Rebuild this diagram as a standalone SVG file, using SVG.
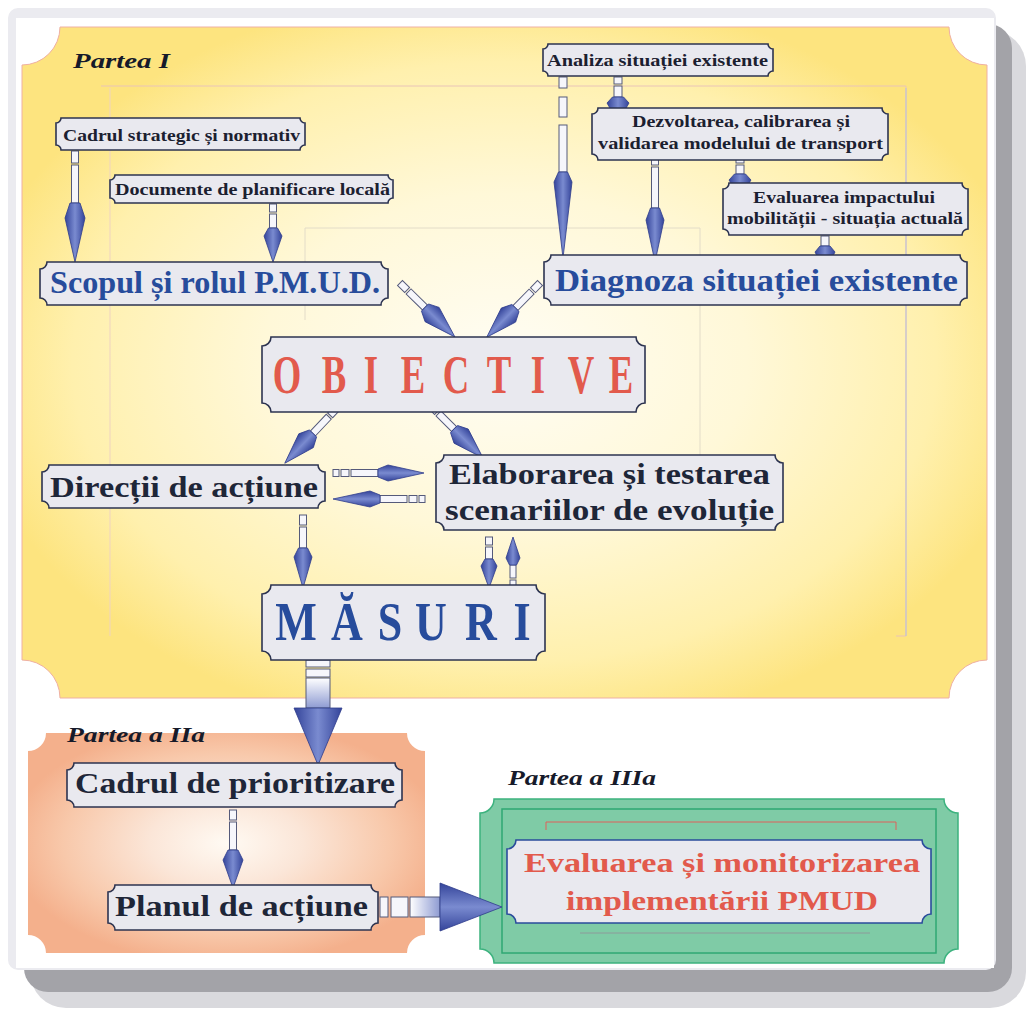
<svg xmlns="http://www.w3.org/2000/svg" width="1034" height="1016" viewBox="0 0 1034 1016">
<defs>
<style>
.box{fill:#e9e9ef;stroke:#2c3350;stroke-width:1.6}
.t{font-family:"Liberation Serif","DejaVu Serif",serif;font-weight:bold}
.sm{font-size:16px;fill:#1b2030}
.dk{fill:#1e2638}
.blue{fill:#274c9c}
.red{fill:#e25a4c}
.part{font-style:italic;font-size:20px;fill:#161a2a}
.tl{fill:#f6f6fb;stroke:#555a7a;stroke-width:1}
.hd{fill:url(#hg);stroke:#2e3c8c;stroke-width:0.8}
.sh{fill:url(#sg);stroke:#555a7a;stroke-width:1}
.deco{fill:none;stroke-width:1}
</style>
<linearGradient id="hg" x1="0" y1="0" x2="1" y2="0">
<stop offset="0" stop-color="#34449a"/><stop offset="0.5" stop-color="#7a8bd0"/><stop offset="1" stop-color="#34449a"/>
</linearGradient>
<linearGradient id="sg" x1="0" y1="0" x2="0" y2="1">
<stop offset="0" stop-color="#ffffff"/><stop offset="1" stop-color="#8e9bd2"/>
</linearGradient>
<radialGradient id="yg" cx="0.5" cy="0.5" r="0.56">
<stop offset="0" stop-color="#fffdf4"/><stop offset="0.45" stop-color="#fff8d8"/><stop offset="0.8" stop-color="#fff0ad"/><stop offset="1" stop-color="#fde47f"/>
</radialGradient>
<radialGradient id="og" cx="0.5" cy="0.5" r="0.55">
<stop offset="0" stop-color="#fffaf3"/><stop offset="0.35" stop-color="#fbe6d8"/><stop offset="0.75" stop-color="#f8c8aa"/><stop offset="1" stop-color="#f4b08c"/>
</radialGradient>
</defs>

<!-- card and shadow -->
<rect x="30" y="30" width="996" height="978" rx="36" fill="#d9d9dd"/>
<rect x="24" y="24" width="988" height="968" rx="24" fill="#a3a3a8"/>
<rect x="8" y="8" width="988" height="962" rx="10" fill="#ebebf0"/>
<rect x="16" y="18" width="978" height="950" fill="#ffffff"/>

<!-- panels -->
<g id="panel-partea1">
<path d="M60,27 H949 A38 38 0 0 0 987,65 V660 A38 38 0 0 0 949,698 H60 A38 38 0 0 0 22,660 V65 A38 38 0 0 0 60,27 Z" fill="url(#yg)" stroke="#efb0a4" stroke-width="1"/>
<path class="deco" d="M101,86 H906 V636 H896" stroke="#e9c4b8"/>
<path class="deco" d="M110,88 V636" stroke="#efd3c0"/>
<path class="deco" d="M906,88 V636" stroke="#b9c0dc"/>
<path class="deco" d="M305,228 H700 V455 M305,228 V320" stroke="#e3dcc8"/>
<text class="t part" x="73" y="68" textLength="97" lengthAdjust="spacingAndGlyphs">Partea I</text>
</g>
<g id="panel-partea2">
<path d="M46,733 H407 A18 18 0 0 0 425,751 V935 A18 18 0 0 0 407,953 H46 A18 18 0 0 0 28,935 V751 A18 18 0 0 0 46,733 Z" fill="url(#og)"/>
<text class="t part" x="67" y="742" textLength="138" lengthAdjust="spacingAndGlyphs">Partea a IIa</text>
</g>
<g id="panel-partea3">
<path d="M494,799 H944 A14 14 0 0 0 958,813 V949 A14 14 0 0 0 944,963 H494 A14 14 0 0 0 480,949 V813 A14 14 0 0 0 494,799 Z" fill="#7fcba6" stroke="#3cb27e" stroke-width="1.5"/>
<rect x="502" y="809" width="434" height="144" fill="none" stroke="#2fa873" stroke-width="1.5"/>
<path class="deco" d="M546,830 V822 H896 V830" stroke="#e0605a" stroke-width="1.5"/>
<path class="deco" d="M580,933 H870" stroke="#8e9a9a" stroke-width="2"/>
<text class="t part" x="508" y="785" textLength="148" lengthAdjust="spacingAndGlyphs">Partea a IIIa</text>
</g>

<!-- connectors -->
<g id="connectors">
<g transform="translate(75,151)"><rect class="tl" x="-3.5" y="0" width="7" height="12"/><rect class="tl" x="-3.5" y="14" width="7" height="38"/><polygon class="hd" points="-5,52 -10,67 0,111 10,67 5,52"/></g>
<g transform="translate(273,204)"><rect class="tl" x="-3.5" y="0" width="7" height="8"/><rect class="tl" x="-3.5" y="10" width="7" height="14"/><polygon class="hd" points="-4.5,24 -9,32 0,58 9,32 4.5,24"/></g>
<g transform="translate(563,77)"><rect class="tl" x="-4" y="0" width="8" height="11"/><rect class="tl" x="-4" y="20" width="8" height="20"/><rect class="tl" x="-4" y="48" width="8" height="47"/><polygon class="hd" points="-4.5,95 -9,105 0,181 9,105 4.5,95"/></g>
<g transform="translate(618,77)"><rect class="tl" x="-4" y="0" width="8" height="7"/><rect class="tl" x="-4" y="9" width="8" height="11"/><polygon class="hd" points="-5.5,20 -11,26 0,45 11,26 5.5,20"/></g>
<g transform="translate(655,153)"><rect class="tl" x="-3.5" y="0" width="7" height="12"/><rect class="tl" x="-3.5" y="14" width="7" height="41"/><polygon class="hd" points="-4.5,55 -9,67 0,109 9,67 4.5,55"/></g>
<g transform="translate(740,156)"><rect class="tl" x="-4" y="0" width="8" height="7"/><rect class="tl" x="-4" y="9" width="8" height="9"/><polygon class="hd" points="-5.5,18 -11,24 0,42 11,24 5.5,18"/></g>
<g transform="translate(825,226)"><rect class="tl" x="-4" y="0" width="8" height="8"/><rect class="tl" x="-4" y="10" width="8" height="10"/><polygon class="hd" points="-5,20 -10,26 0,46 10,26 5,20"/></g>
<g transform="translate(400,283) rotate(-45.5)"><rect class="tl" x="-3.5" y="0" width="7" height="10"/><rect class="tl" x="-3.5" y="12" width="7" height="23"/><polygon class="hd" points="-5,35 -10,45 0,77 10,45 5,35"/></g>
<g transform="translate(540,283) rotate(44.5)"><rect class="tl" x="-3.5" y="0" width="7" height="10"/><rect class="tl" x="-3.5" y="12" width="7" height="23"/><polygon class="hd" points="-5,35 -10,45 0,76 10,45 5,35"/></g>
<g transform="translate(337,408) rotate(43.4)"><rect class="tl" x="-3.5" y="0" width="7" height="10"/><rect class="tl" x="-3.5" y="12" width="7" height="23"/><polygon class="hd" points="-5,35 -10,45 0,76 10,45 5,35"/></g>
<g transform="translate(430,405) rotate(-45)"><rect class="tl" x="-3.5" y="0" width="7" height="10"/><rect class="tl" x="-3.5" y="12" width="7" height="22"/><polygon class="hd" points="-5,34 -10,44 0,75 10,44 5,34"/></g>
<g transform="translate(333,473) rotate(-90)"><rect class="tl" x="-3.5" y="0" width="7" height="6"/><rect class="tl" x="-3.5" y="8" width="7" height="8"/><rect class="tl" x="-3.5" y="18" width="7" height="27"/><polygon class="hd" points="-4,45 -8,55 0,91 8,55 4,45"/></g>
<g transform="translate(425,499) rotate(90)"><rect class="tl" x="-3.5" y="0" width="7" height="6"/><rect class="tl" x="-3.5" y="8" width="7" height="8"/><rect class="tl" x="-3.5" y="18" width="7" height="27"/><polygon class="hd" points="-4,45 -8,55 0,92 8,55 4,45"/></g>
<g transform="translate(303,515)"><rect class="tl" x="-3.5" y="0" width="7" height="10"/><rect class="tl" x="-3.5" y="12" width="7" height="21"/><polygon class="hd" points="-4.5,33 -9,42 0,73 9,42 4.5,33"/></g>
<g transform="translate(489,537)"><rect class="tl" x="-3.5" y="0" width="7" height="8"/><rect class="tl" x="-3.5" y="10" width="7" height="12"/><polygon class="hd" points="-4,22 -8,29 0,51 8,29 4,22"/></g>
<g transform="translate(513,590) rotate(180)"><rect class="tl" x="-3" y="0" width="6" height="10"/><rect class="tl" x="-3" y="12" width="6" height="13"/><polygon class="hd" points="-3.5,25 -7,32 0,53 7,32 3.5,25"/></g>
<g transform="translate(318,660)"><rect class="tl" x="-12" y="0" width="24" height="7"/><rect class="tl" x="-12" y="9" width="24" height="8"/><rect class="sh" x="-12" y="18" width="24" height="30"/><polygon class="hd" points="-12,48 -24,48 0,105 24,48 12,48"/></g>
<g transform="translate(233,810)"><rect class="tl" x="-3.5" y="0" width="7" height="10"/><rect class="tl" x="-3.5" y="12" width="7" height="28"/><polygon class="hd" points="-5,40 -10,50 0,78 10,50 5,40"/></g>
<g transform="translate(380,907) rotate(-90)"><rect class="tl" x="-10" y="0" width="20" height="8"/><rect class="tl" x="-10" y="11" width="20" height="17"/><rect class="sh" x="-10" y="30" width="20" height="30"/><polygon class="hd" points="-10,60 -24,60 0,122 24,60 10,60"/></g>
</g>

<!-- nodes -->
<g id="n-cadrul-strategic">
<path class="box" d="M61,118 H300 A5 5 0 0 0 305,123 V145 A5 5 0 0 0 300,150 H61 A5 5 0 0 0 56,145 V123 A5 5 0 0 0 61,118 Z"/>
<text class="t sm" x="63" y="141" textLength="237" lengthAdjust="spacingAndGlyphs">Cadrul strategic și normativ</text>
</g>
<g id="n-documente">
<path class="box" d="M115,175 H388 A5 5 0 0 0 393,180 V198 A5 5 0 0 0 388,203 H115 A5 5 0 0 0 110,198 V180 A5 5 0 0 0 115,175 Z"/>
<text class="t sm" x="115" y="195" textLength="275" lengthAdjust="spacingAndGlyphs">Documente de planificare locală</text>
</g>
<g id="n-scopul">
<path class="box" d="M47,262 H381 A7 7 0 0 0 388,269 V298 A7 7 0 0 0 381,305 H47 A7 7 0 0 0 40,298 V269 A7 7 0 0 0 47,262 Z"/>
<text class="t blue" x="50" y="293" font-size="31" textLength="330" lengthAdjust="spacingAndGlyphs">Scopul și rolul P.M.U.D.</text>
</g>
<g id="n-analiza">
<path class="box" d="M548,44 H768 A5 5 0 0 0 773,49 V71 A5 5 0 0 0 768,76 H548 A5 5 0 0 0 543,71 V49 A5 5 0 0 0 548,44 Z"/>
<text class="t sm" x="547" y="66" font-size="15" textLength="221" lengthAdjust="spacingAndGlyphs">Analiza situației existente</text>
</g>
<g id="n-dezvoltarea">
<path class="box" d="M598,108 H882 A6 6 0 0 0 888,114 V154 A6 6 0 0 0 882,160 H598 A6 6 0 0 0 592,154 V114 A6 6 0 0 0 598,108 Z"/>
<text class="t sm" x="632" y="127" textLength="218" lengthAdjust="spacingAndGlyphs">Dezvoltarea, calibrarea și</text>
<text class="t sm" x="598" y="149" textLength="285" lengthAdjust="spacingAndGlyphs">validarea modelului de transport</text>
</g>
<g id="n-evaluarea-impact">
<path class="box" d="M729,183 H962 A6 6 0 0 0 968,189 V229 A6 6 0 0 0 962,235 H729 A6 6 0 0 0 723,229 V189 A6 6 0 0 0 729,183 Z"/>
<text class="t sm" x="753" y="203" textLength="182" lengthAdjust="spacingAndGlyphs">Evaluarea impactului</text>
<text class="t sm" x="727" y="224" textLength="236" lengthAdjust="spacingAndGlyphs">mobilității - situația actuală</text>
</g>
<g id="n-diagnoza">
<path class="box" d="M551,255 H960 A7 7 0 0 0 967,262 V298 A7 7 0 0 0 960,305 H551 A7 7 0 0 0 544,298 V262 A7 7 0 0 0 551,255 Z"/>
<text class="t blue" x="555" y="291" font-size="31" textLength="403" lengthAdjust="spacingAndGlyphs">Diagnoza situației existente</text>
</g>
<g id="n-obiective">
<path class="box" d="M271,337 H636 A9 9 0 0 0 645,346 V403 A9 9 0 0 0 636,412 H271 A9 9 0 0 0 262,403 V346 A9 9 0 0 0 271,337 Z"/>
<text class="t red" transform="translate(0,393) scale(0.68,1)" font-size="54" text-anchor="middle" x="422.06 491.18 545.59 607.35 670.59 733.82 791.18 854.41 913.24" y="0">OBIECTIVE</text>
</g>
<g id="n-directii">
<path class="box" d="M49,465 H318 A7 7 0 0 0 325,472 V501 A7 7 0 0 0 318,508 H49 A7 7 0 0 0 42,501 V472 A7 7 0 0 0 49,465 Z"/>
<text class="t dk" x="50" y="497" font-size="29" textLength="268" lengthAdjust="spacingAndGlyphs">Direcții de acțiune</text>
</g>
<g id="n-elaborarea">
<path class="box" d="M444,455 H775 A8 8 0 0 0 783,463 V522 A8 8 0 0 0 775,530 H444 A8 8 0 0 0 436,522 V463 A8 8 0 0 0 444,455 Z"/>
<text class="t dk" x="449" y="484" font-size="29" textLength="321" lengthAdjust="spacingAndGlyphs">Elaborarea și testarea</text>
<text class="t dk" x="445" y="520" font-size="29" textLength="329" lengthAdjust="spacingAndGlyphs">scenariilor de evoluție</text>
</g>
<g id="n-masuri">
<path class="box" d="M271,585 H536 A9 9 0 0 0 545,594 V651 A9 9 0 0 0 536,660 H271 A9 9 0 0 0 262,651 V594 A9 9 0 0 0 271,585 Z"/>
<text class="t blue" transform="translate(0,640) scale(0.8,1)" font-size="55" text-anchor="middle" x="370 433.75 487.5 538.75 601.25 652.5" y="0">MĂSURI</text>
</g>
<g id="n-cadrul-prioritizare">
<path class="box" d="M74,763 H395 A7 7 0 0 0 402,770 V800 A7 7 0 0 0 395,807 H74 A7 7 0 0 0 67,800 V770 A7 7 0 0 0 74,763 Z"/>
<text class="t dk" x="75" y="793" font-size="30" textLength="320" lengthAdjust="spacingAndGlyphs">Cadrul de prioritizare</text>
</g>
<g id="n-planul">
<path class="box" d="M115,885 H371 A7 7 0 0 0 378,892 V923 A7 7 0 0 0 371,930 H115 A7 7 0 0 0 108,923 V892 A7 7 0 0 0 115,885 Z"/>
<text class="t dk" x="115" y="916" font-size="30" textLength="253" lengthAdjust="spacingAndGlyphs">Planul de acțiune</text>
</g>
<g id="n-evaluarea-monitorizare">
<path class="box" d="M516,840 H922 A9 9 0 0 0 931,849 V914 A9 9 0 0 0 922,923 H516 A9 9 0 0 0 507,914 V849 A9 9 0 0 0 516,840 Z" style="stroke:#2a4c9c"/>
<text class="t red" x="524" y="872" font-size="28" textLength="396" lengthAdjust="spacingAndGlyphs">Evaluarea și monitorizarea</text>
<text class="t red" x="566" y="910" font-size="28" textLength="312" lengthAdjust="spacingAndGlyphs">implementării PMUD</text>
</g>
</svg>
